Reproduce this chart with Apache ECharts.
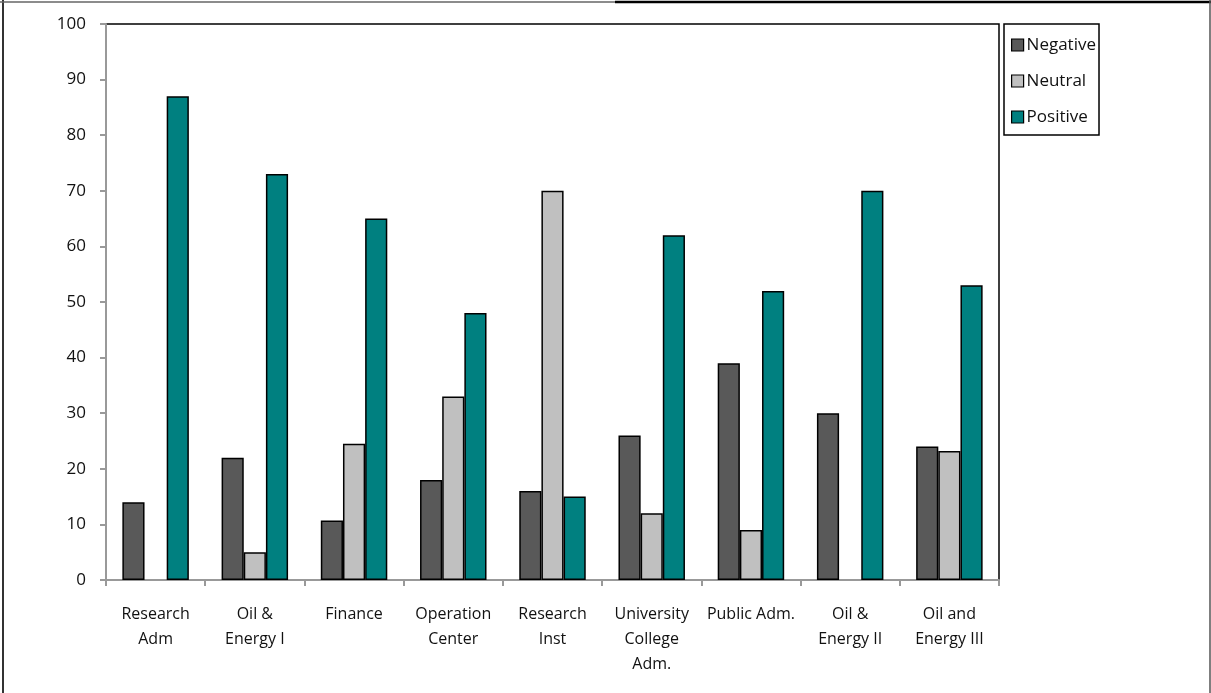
<!DOCTYPE html>
<html>
<head>
<meta charset="utf-8">
<script src="https://cdn.jsdelivr.net/npm/echarts@6/dist/echarts.min.js"></script>
<style>
  html, body { margin: 0; padding: 0; background: #fff; }
  #chart-container { width: 1211px; height: 693px; }
</style>
</head>
<body>
<div id="chart-container"></div>
<script>
const categories = ['Research\nAdm', 'Oil &\nEnergy I', 'Finance', 'Operation\nCenter', 'Research\nInst',
    'University\nCollege\nAdm.', 'Public Adm.', 'Oil &\nEnergy II', 'Oil and\nEnergy III'];
const negative = [14, 22, 10.7, 18, 16, 26, 39, 30, 24];
const neutral = [0, 5, 24.5, 33, 70, 12, 9, 0, 23.2];
const positive = [87, 73, 65, 48, 15, 62, 52, 70, 53];
const yTicks = { min: 0, max: 100, interval: 10 };

const chartDom = document.getElementById('chart-container');
const myChart = echarts.init(chartDom);

const font = 'Open Sans';
// zero values are not drawn as bars in the original
const noZero = arr => arr.map(v => (v === 0 ? '-' : v));

const barSeries = (name, data, color) => ({
    name: name,
    type: 'bar',
    data: noZero(data),
    barGap: '0%',
    barCategoryGap: '33%',
    itemStyle: { color: color, borderColor: '#000', borderWidth: 1.5 }
});

const option = {
    animation: false,
    backgroundColor: '#fff',
    graphic: [
        // outer frame of the original picture
        { type: 'line', shape: { x1: 3, y1: 0, x2: 3, y2: 693 }, style: { stroke: '#333', lineWidth: 2 } },
        { type: 'line', shape: { x1: 0, y1: 2, x2: 615, y2: 2 }, style: { stroke: '#666', lineWidth: 1.5 } },
        { type: 'line', shape: { x1: 615, y1: 2, x2: 1211, y2: 2 }, style: { stroke: '#000', lineWidth: 2.5 } },
        { type: 'line', shape: { x1: 1210, y1: 0, x2: 1210, y2: 693 }, style: { stroke: '#555', lineWidth: 1.5 } }
    ],
    legend: {
        orient: 'vertical',
        left: 1004,
        top: 24,
        padding: [11, 3, 8, 7],
        borderColor: '#000',
        borderWidth: 1.5,
        itemGap: 16,
        itemWidth: 12,
        itemHeight: 12,
        icon: 'rect',
        itemStyle: { borderColor: '#000', borderWidth: 1.2 },
        textStyle: { fontFamily: font, fontSize: 17, color: '#111', padding: [0, 0, 0, -2], lineHeight: 20 },
        data: ['Negative', 'Neutral', 'Positive']
    },
    grid: {
        left: 106,
        right: 212,
        top: 24,
        bottom: 113,
        show: true,
        borderColor: '#000',
        borderWidth: 1.5,
        backgroundColor: 'transparent'
    },
    xAxis: {
        type: 'category',
        data: categories,
        axisLine: { lineStyle: { color: '#999', width: 2 } },
        axisTick: { show: true, alignWithLabel: false, length: 6, lineStyle: { color: '#999', width: 2 } },
        axisLabel: {
            interval: 0,
            margin: 22,
            fontFamily: font,
            fontSize: 16,
            lineHeight: 25,
            color: '#111'
        }
    },
    yAxis: {
        type: 'value',
        min: yTicks.min,
        max: yTicks.max,
        interval: yTicks.interval,
        splitLine: { show: false },
        axisLine: { show: true, lineStyle: { color: '#999', width: 2 } },
        axisTick: { show: true, length: 6, lineStyle: { color: '#999', width: 2 } },
        axisLabel: { margin: 20, fontFamily: font, fontSize: 17, color: '#111' }
    },
    series: [
        barSeries('Negative', negative, '#595959'),
        barSeries('Neutral', neutral, '#c0c0c0'),
        barSeries('Positive', positive, '#008080')
    ]
};

myChart.setOption(option);
</script>
</body>
</html>
